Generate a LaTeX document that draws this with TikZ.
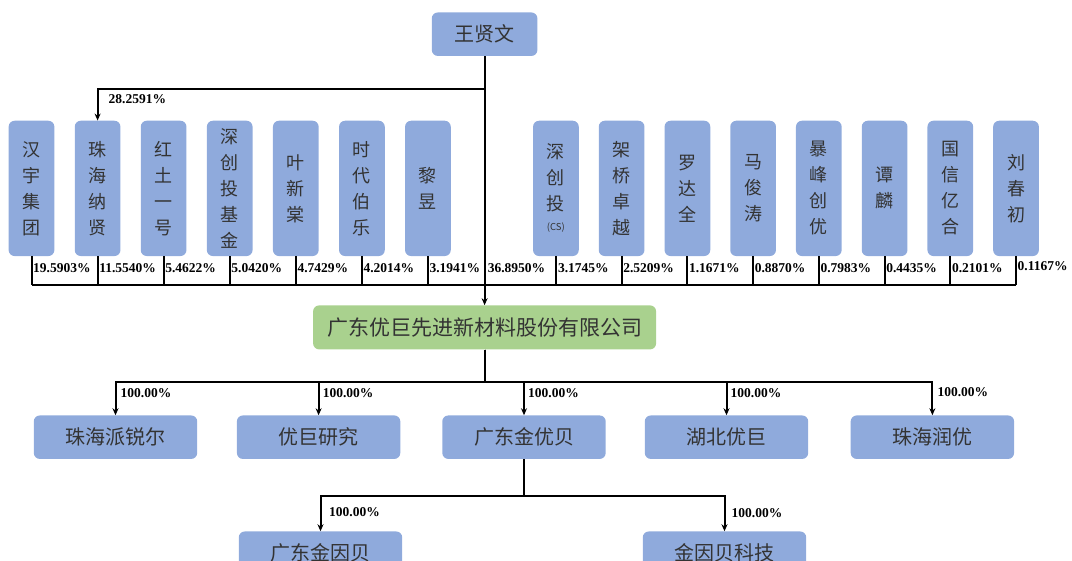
\documentclass[tikz,border=0pt]{standalone}
\usepackage{fontspec}
\setmainfont{Liberation Serif}
\newfontfamily\cjk{Noto Sans CJK SC}
\usetikzlibrary{arrows.meta}
\definecolor{boxblue}{HTML}{8FAADC}
\definecolor{boxgreen}{HTML}{A9D18E}

\begin{document}
\begin{tikzpicture}[x=1pt, y=-1pt,
        holder/.style={rectangle,rounded corners=6pt,fill=boxblue,text=black!80,
          inner sep=0pt,minimum width=45.7pt,minimum height=135.3pt,align=center,
          font=\cjk\fontsize{18}{26}\selectfont},
        company/.style={rectangle,rounded corners=6pt,fill=boxblue,text=black!80,
          inner sep=0pt,minimum width=163.4pt,minimum height=43.5pt,
          font=\cjk\fontsize{20}{24}\selectfont},
        pct/.style={anchor=west,inner sep=0pt,font=\bfseries\fontsize{13.5}{14}\selectfont},
        conn/.style={line width=2pt,black},
        arrow/.style={conn,-{Stealth[length=7pt,width=6pt]}}]

        \useasboundingbox (0,0) rectangle (1072,561);

	\node [company,minimum width=105.6pt] (wang) at (484.6, 34.2) {王贤文};

        % shareholders
        \node [holder] (hanyu)   at (31.5, 188.4)  {汉\\宇\\集\\团};
        \node [holder] (zhnx)    at (97.6, 188.4)  {珠\\海\\纳\\贤};
        \node [holder] (hongtu)  at (163.6, 188.4) {红\\土\\一\\号};
        \node [holder] (sct)     at (229.7, 188.4) {深\\创\\投\\基\\金};
        \node [holder] (yexin)   at (295.8, 188.4) {叶\\新\\棠};
        \node [holder] (shidai)  at (361.9, 188.4) {时\\代\\伯\\乐};
        \node [holder] (liyu)    at (427.9, 188.4) {黎\\昱};
        \node [holder] (sctcs)   at (555.9, 188.4) {深\\创\\投\\[-6pt]{\fontsize{9.5}{10}\selectfont (CS)}};
        \node [holder] (jiaqiao) at (621.6, 188.4) {架\\桥\\卓\\越};
        \node [holder] (luo)     at (687.4, 188.4) {罗\\达\\全};
        \node [holder] (ma)      at (753.1, 188.4) {马\\俊\\涛};
        \node [holder] (baofeng) at (818.8, 188.4) {暴\\峰\\创\\优};
        \node [holder] (tan)     at (884.6, 188.4) {谭\\麟};
        \node [holder] (guoxin)  at (950.3, 188.4) {国\\信\\亿\\合};
        \node [holder] (liu)     at (1016.0, 188.4) {刘\\春\\初};

        \node [company,fill=boxgreen,minimum width=343pt,minimum height=44pt,
          font=\cjk\fontsize{21}{24}\selectfont] (yuju) at (484.6, 327.4) {广东优巨先进新材料股份有限公司};

        % subsidiaries
        \node [company] (pairui)    at (115.5, 437.2) {珠海派锐尔};
        \node [company] (yjyj)      at (318.6, 437.2) {优巨研究};
        \node [company] (jinyoubei) at (524.0, 437.2) {广东金优贝};
        \node [company] (hubei)     at (726.5, 437.2) {湖北优巨};
        \node [company] (runyou)    at (932.4, 437.2) {珠海润优};
        \node [company] (jinyinbei) at (320.5, 553.2) {广东金因贝};
        \node [company] (jybkj)     at (724.5, 553.2) {金因贝科技};

        \coordinate (bus) at (0, 285.5);
        \coordinate (pctrow) at (0, 268);

        \path [conn] (hanyu.south) edge (hanyu.south |- bus);
        \path [conn] (zhnx.south) edge (zhnx.south |- bus);
        \path [conn] (hongtu.south) edge (hongtu.south |- bus);
        \path [conn] (sct.south) edge (sct.south |- bus);
        \path [conn] (yexin.south) edge (yexin.south |- bus);
        \path [conn] (shidai.south) edge (shidai.south |- bus);
        \path [conn] (liyu.south) edge (liyu.south |- bus);
        \path [conn] (sctcs.south) edge (sctcs.south |- bus);
        \path [conn] (jiaqiao.south) edge (jiaqiao.south |- bus);
        \path [conn] (luo.south) edge (luo.south |- bus);
        \path [conn] (ma.south) edge (ma.south |- bus);
        \path [conn] (baofeng.south) edge (baofeng.south |- bus);
        \path [conn] (tan.south) edge (tan.south |- bus);
        \path [conn] (guoxin.south) edge (guoxin.south |- bus);
        \path [conn] (liu.south) edge (liu.south |- bus);
        \draw [conn] (hanyu.south |- bus) -- (liu.south |- bus);

        \draw [arrow] (wang) -- (yuju);
        \draw [arrow] (wang.south) -- ++(0,33) -| (zhnx.north);

        \node [pct] at (108.5, 99) {28.2591\%};
        \node [pct,xshift=1.5pt] at (hanyu.south |- pctrow)   {19.5903\%};
        \node [pct,xshift=1.5pt] at (zhnx.south |- pctrow)    {11.5540\%};
        \node [pct,xshift=1.5pt] at (hongtu.south |- pctrow)  {5.4622\%};
        \node [pct,xshift=1.5pt] at (sct.south |- pctrow)     {5.0420\%};
        \node [pct,xshift=1.5pt] at (yexin.south |- pctrow)   {4.7429\%};
        \node [pct,xshift=1.5pt] at (shidai.south |- pctrow)  {4.2014\%};
        \node [pct,xshift=1.5pt] at (liyu.south |- pctrow)    {3.1941\%};
        \node [pct,xshift=3pt]   at (wang.south |- pctrow)    {36.8950\%};
        \node [pct,xshift=2pt]   at (sctcs.south |- pctrow)   {3.1745\%};
        \node [pct,xshift=1.5pt] at (jiaqiao.south |- pctrow) {2.5209\%};
        \node [pct,xshift=1.5pt] at (luo.south |- pctrow)     {1.1671\%};
        \node [pct,xshift=1.5pt] at (ma.south |- pctrow)      {0.8870\%};
        \node [pct,xshift=1.5pt] at (baofeng.south |- pctrow) {0.7983\%};
        \node [pct,xshift=1.5pt] at (tan.south |- pctrow)     {0.4435\%};
        \node [pct,xshift=1.5pt] at (guoxin.south |- pctrow)  {0.2101\%};
        \node [pct,xshift=1.5pt,yshift=1.5pt] at (liu.south |- pctrow) {0.1167\%};

        \draw [arrow] (yuju.south) -- ++(0,32.7) -| (pairui.north);
        \draw [arrow] (yuju.south) -- ++(0,32.7) -| (yjyj.north);
        \draw [arrow] (yuju.south) -- ++(0,32.7) -| (jinyoubei.north);
        \draw [arrow] (yuju.south) -- ++(0,32.7) -| (hubei.north);
        \draw [arrow] (yuju.south) -- ++(0,32.7) -| (runyou.north);
        \node [pct,xshift=5pt] at (pairui.north |- 0,393.5)    {100.00\%};
        \node [pct,xshift=4pt] at (yjyj.north |- 0,393.5)      {100.00\%};
        \node [pct,xshift=4pt] at (jinyoubei.north |- 0,393.5) {100.00\%};
        \node [pct,xshift=4pt] at (hubei.north |- 0,393.5)     {100.00\%};
        \node [pct,xshift=5pt] at (runyou.north |- 0,392.5)    {100.00\%};

        \draw [arrow] (jinyoubei.south) -- ++(0,36.5) -| (jinyinbei.north);
        \draw [arrow] (jinyoubei.south) -- ++(0,36.5) -| (jybkj.north);
        \node [pct,xshift=8.5pt] at (jinyinbei.north |- 0,511.7) {100.00\%};
        \node [pct,xshift=7pt]   at (jybkj.north |- 0,513.5)     {100.00\%};
\end{tikzpicture}
\end{document}
